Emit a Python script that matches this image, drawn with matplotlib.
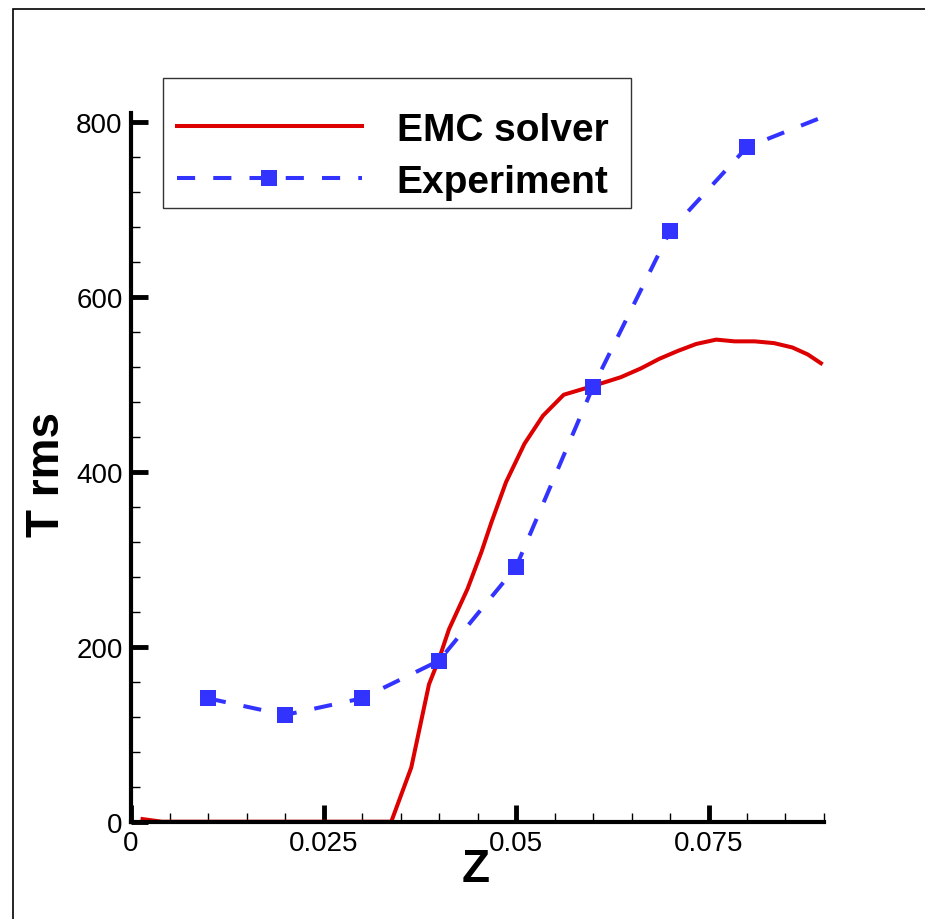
import numpy as np
import matplotlib
matplotlib.use('Agg')
from matplotlib import pyplot as plt
from matplotlib.patches import Rectangle
from matplotlib.ticker import MultipleLocator

plt.rcParams['font.family'] = ['Liberation Sans', 'DejaVu Sans']

# EMC solver curve
zSolver = [0.0015, 0.004, 0.010, 0.020, 0.030, 0.0338, 0.0364, 0.0387, 0.0400, 0.0413,
           0.0437, 0.0455, 0.0468, 0.0487, 0.0511, 0.0535, 0.0562, 0.0600, 0.0636,
           0.0662, 0.0686, 0.0710, 0.0734, 0.0760, 0.0784, 0.0810, 0.0835, 0.0859,
           0.0879, 0.0896]
tSolver = [3, 0, 0, 0, 0, 0, 62, 157, 186, 220,
           266, 308, 342, 388, 432, 464, 488, 498, 508,
           518, 529, 538, 546, 551, 549, 549, 547, 542,
           534, 524]

# experiment points
zExp = [0.01, 0.02, 0.03, 0.04, 0.05, 0.06, 0.07, 0.08, 0.09]
tExp = [141, 122, 141, 184, 291, 497, 675, 771, 806]

xTicks = [0, 0.025, 0.05, 0.075]
xTickLabels = ['0', '0.025', '0.05', '0.075']
yTicks = [0, 200, 400, 600, 800]

red = '#dd0000'
blue = '#3333ff'

W, H = 925, 920
fig = plt.figure(figsize=(W / 100, H / 100), dpi=100)
ax = fig.add_axes([131 / W, 1 - 822.7 / H, (824 - 131) / W, (822.7 - 114) / H])

ax.plot(zSolver, tSolver, color=red, lw=2.9, label='EMC solver')
ax.plot(zExp, tExp, color=blue, lw=2.9, dashes=(4.5, 4.5), marker='s', markersize=12,
        markevery=list(range(8)), markeredgewidth=0, label='Experiment')

ax.set_xlim(0, 0.09)
ax.set_ylim(0, 810)
ax.set_xticks(xTicks)
ax.set_xticklabels(xTickLabels)
ax.set_yticks(yTicks)
ax.xaxis.set_minor_locator(MultipleLocator(0.005))
ax.yaxis.set_minor_locator(MultipleLocator(40))

for side in ['top', 'right']:
    ax.spines[side].set_visible(False)
for side in ['left', 'bottom']:
    ax.spines[side].set_linewidth(3)

ax.tick_params(which='major', direction='in', length=12, width=3.5, labelsize=20, pad=6)
ax.tick_params(which='minor', direction='in', length=6.5, width=1)

ax.set_xlabel('Z', fontsize=33, fontweight='bold', va='center')
ax.xaxis.set_label_coords((476 - 131) / 693, -(870 - 822.7) / 708.7)
ax.set_ylabel('T rms', fontsize=33, fontweight='bold', va='center')
ax.yaxis.set_label_coords((47 - 131) / 693, (822.7 - 475) / 708.7)

# legend without its own frame, box drawn separately
leg = ax.legend(loc='upper left', bbox_to_anchor=(177 / W, 1 - 113 / H),
                bbox_transform=fig.transFigure, borderaxespad=0,
                prop={'size': 28, 'weight': 'bold'}, handlelength=4.75,
                handletextpad=0.9, numpoints=1, frameon=False,
                borderpad=0, labelspacing=0.4)
fig.patches.append(Rectangle((163 / W, 1 - 209 / H), (631 - 163) / W, (209 - 79) / H,
                             transform=fig.transFigure, fill=False,
                             edgecolor='#333333', lw=1.0, zorder=5))

# outer frame around the figure
fig.patches.append(Rectangle((13 / W, -0.1), 1.2, 1.1 - 10 / H, transform=fig.transFigure,
                             fill=False, edgecolor='black', lw=1.2))

fig.savefig('out.png', dpi=100)
